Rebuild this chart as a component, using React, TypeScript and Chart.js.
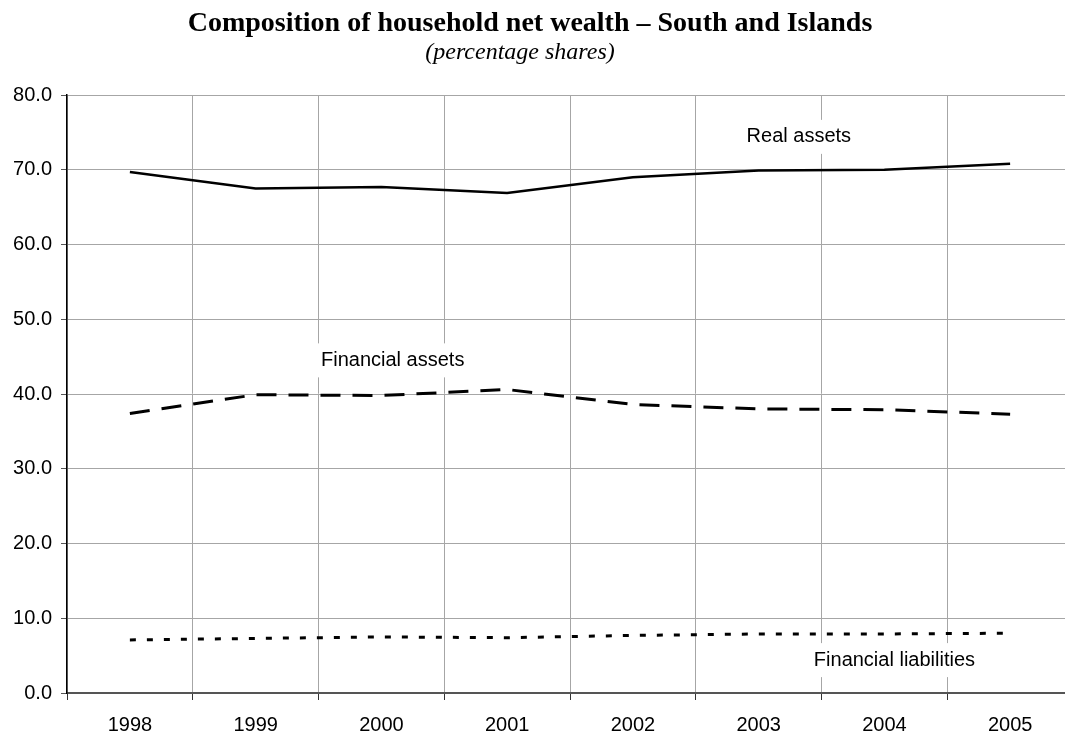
import React, { useEffect, useRef } from "react";
import { Chart, registerables } from "chart.js";

Chart.register(...registerables);

const years = ["1998", "1999", "2000", "2001", "2002", "2003", "2004", "2005"];
const realAssets = [69.7, 67.5, 67.7, 66.9, 69.0, 69.9, 70.0, 70.8];
const financialAssets = [37.4, 39.9, 39.8, 40.6, 38.6, 38.0, 37.9, 37.3];
const financialLiabilities = [7.1, 7.3, 7.5, 7.4, 7.7, 7.9, 7.9, 8.0];

const titleText = "Composition of household net wealth \u2013 South and Islands";
const subtitleText = "(percentage shares)";

// series annotation labels: [text, category position, value position]
const seriesLabels: [string, number, number][] = [
  ["Real assets", 5.32, 74.4],
  ["Financial assets", 2.09, 44.5],
  ["Financial liabilities", 6.08, 4.4],
];

const SANS = "'Liberation Sans', Arial, sans-serif";
const SERIF = "'Liberation Serif', 'Times New Roman', serif";

export default function App() {
  const ref = useRef<HTMLCanvasElement | null>(null);

  useEffect(() => {
    if (!ref.current) return;

    const annotations = {
      id: "annotations",
      afterDatasetsDraw(chart: any) {
        const ctx = chart.ctx;
        const xs = chart.scales.x;
        const ys = chart.scales.y;
        ctx.save();
        ctx.font = `20px ${SANS}`;
        ctx.textAlign = "center";
        ctx.textBaseline = "middle";
        for (const [txt, xv, yv] of seriesLabels) {
          const px = xs.getPixelForValue(xv);
          const py = ys.getPixelForValue(yv);
          const w = ctx.measureText(txt).width;
          ctx.fillStyle = "#ffffff";
          ctx.fillRect(px - w / 2 - 3, py - 17, w + 6, 34);
          ctx.fillStyle = "#000000";
          ctx.fillText(txt, px, py);
        }
        ctx.restore();
      },
      afterDraw(chart: any) {
        const ctx = chart.ctx;
        ctx.save();
        ctx.fillStyle = "#000000";
        ctx.textAlign = "center";
        ctx.textBaseline = "middle";
        ctx.font = `bold 28px ${SERIF}`;
        ctx.fillText(titleText, 530, 24);
        ctx.font = `italic 24px ${SERIF}`;
        ctx.fillText(subtitleText, 520, 53);
        ctx.restore();
      },
    };

    const chart = new Chart(ref.current, {
      type: "line",
      data: {
        labels: years,
        datasets: [
          {
            label: "Real assets",
            data: realAssets,
            borderColor: "#000000",
            borderWidth: 2.5,
            pointRadius: 0,
            tension: 0,
            fill: false,
          },
          {
            label: "Financial assets",
            data: financialAssets,
            borderColor: "#000000",
            borderWidth: 3,
            borderDash: [20, 12],
            pointRadius: 0,
            tension: 0,
            fill: false,
          },
          {
            label: "Financial liabilities",
            data: financialLiabilities,
            borderColor: "#000000",
            borderWidth: 3,
            borderDash: [6, 11],
            pointRadius: 0,
            tension: 0,
            fill: false,
          },
        ],
      },
      options: {
        responsive: false,
        animation: false,
        devicePixelRatio: 1,
        layout: { padding: { top: 95, right: 17, left: 0, bottom: 0 } },
        plugins: {
          legend: { display: false },
          title: { display: false },
          tooltip: { enabled: false },
        },
        scales: {
          x: {
            type: "category",
            offset: true,
            grid: {
              offset: true,
              color: "#a6a6a6",
              lineWidth: 1,
              tickLength: 7,
              tickColor: "#333333",
            },
            border: { color: "#555555", width: 2 },
            ticks: {
              color: "#000000",
              font: { family: SANS, size: 20 },
              padding: 13,
              maxRotation: 0,
              autoSkip: false,
            },
            afterFit(scale: any) {
              scale.height = 45;
            },
          },
          y: {
            min: 0,
            max: 80,
            grid: {
              color: "#a6a6a6",
              lineWidth: 1,
              tickLength: 6,
              tickColor: "#555555",
            },
            border: { color: "#000000", width: 1.5 },
            ticks: {
              stepSize: 10,
              color: "#000000",
              font: { family: SANS, size: 20 },
              padding: 9,
              callback: (v: any) => Number(v).toFixed(1),
            },
            afterFit(scale: any) {
              scale.width = 67;
            },
          },
        },
      },
      plugins: [annotations],
    } as any);

    return () => chart.destroy();
  }, []);

  return (
    <div
      style={{
        position: "fixed",
        left: 0,
        top: 0,
        width: 1065,
        height: 738,
        overflow: "hidden",
        background: "#ffffff",
      }}
    >
      <canvas ref={ref} width={1090} height={738} style={{ display: "block" }} />
    </div>
  );
}
